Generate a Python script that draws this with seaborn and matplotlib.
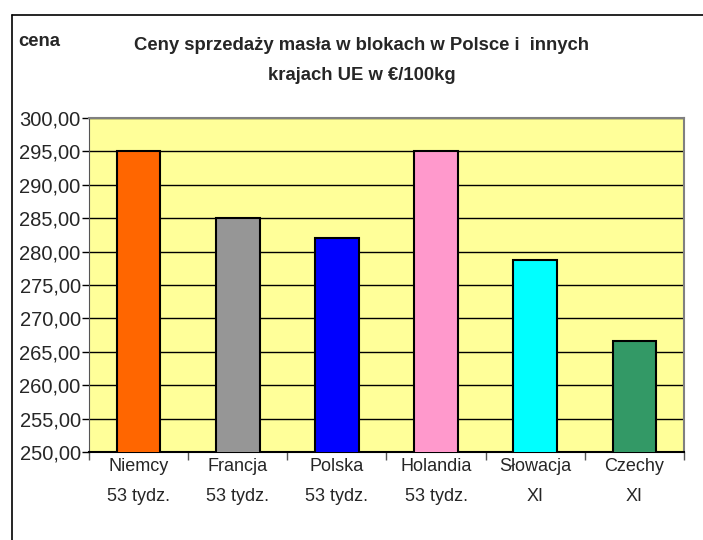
import matplotlib
matplotlib.use("Agg")
import matplotlib.pyplot as plt
import seaborn as sns
import pandas as pd
from matplotlib.ticker import FuncFormatter, MultipleLocator
from matplotlib.lines import Line2D

countries = ["Niemcy", "Francja", "Polska", "Holandia", "Słowacja", "Czechy"]
periods = ["53 tydz.", "53 tydz.", "53 tydz.", "53 tydz.", "XI", "XI"]
prices = [295.0, 285.0, 282.0, 295.0, 278.7, 266.6]
colors = ["#FF6600", "#969696", "#0000FF", "#FF99CC", "#00FFFF", "#339966"]

labels = [f"{c}\n{p}" for c, p in zip(countries, periods)]
df = pd.DataFrame({"label": labels, "price": prices})

sns.set_style("white")
plt.rcParams["font.family"] = ["Liberation Sans", "DejaVu Sans"]
ysz, xsz, tsz = 14.5, 13, 13.3

fig = plt.figure(figsize=(7.03, 5.40), dpi=100)
ax = fig.add_axes([89/703, 88/540, 595/703, 334/540])
ax.set_facecolor("#FFFF99")

sns.barplot(data=df, x="label", y="price", hue="label", palette=colors,
            legend=False, width=0.44, edgecolor="black", linewidth=1.5,
            saturation=1, ax=ax, zorder=3)

ax.set_ylim(250, 300)
ax.set_xlim(-0.5, len(labels) - 0.5)
ax.yaxis.set_major_locator(MultipleLocator(5))
ax.yaxis.set_major_formatter(FuncFormatter(lambda v, p: f"{v:.2f}".replace(".", ",")))
ax.grid(axis="y", color="black", linewidth=1, zorder=1)
ax.set_axisbelow(True)

ax.set_xlabel("")
ax.set_ylabel("")
ax.tick_params(axis="y", labelsize=ysz, length=5, width=1, color="black", left=True, pad=1)
ax.tick_params(axis="x", labelsize=xsz, length=0, pad=4)
ax.set_xticks(range(len(labels)))
ax.set_xticklabels(labels, linespacing=2.0)
ax.set_xticks([i - 0.5 for i in range(len(labels) + 1)], minor=True)
ax.tick_params(axis="x", which="minor", length=6, width=1, color="#555555", bottom=True)

for s in ["top", "right"]:
    ax.spines[s].set_color("#808080")
    ax.spines[s].set_linewidth(1.5)
ax.spines["left"].set_color("#555555")
ax.spines["bottom"].set_color("black")
ax.spines["bottom"].set_linewidth(1.5)

fig.text(18/703, 1 - 42/540, "cena", fontsize=tsz, fontweight="bold", va="center", ha="left")
fig.text(362/703, 1 - 45/540, "Ceny sprzedaży masła w blokach w Polsce i  innych",
         fontsize=tsz, fontweight="bold", va="center", ha="center")
fig.text(362/703, 1 - 75/540, "krajach UE w €/100kg",
         fontsize=tsz, fontweight="bold", va="center", ha="center")

fig.add_artist(Line2D([12/703, 12/703], [0, 1 - 15/540], color="black", lw=1.2, transform=fig.transFigure))
fig.add_artist(Line2D([12/703, 1], [1 - 15/540, 1 - 15/540], color="black", lw=1.2, transform=fig.transFigure))

fig.savefig("out.png", dpi=100)
